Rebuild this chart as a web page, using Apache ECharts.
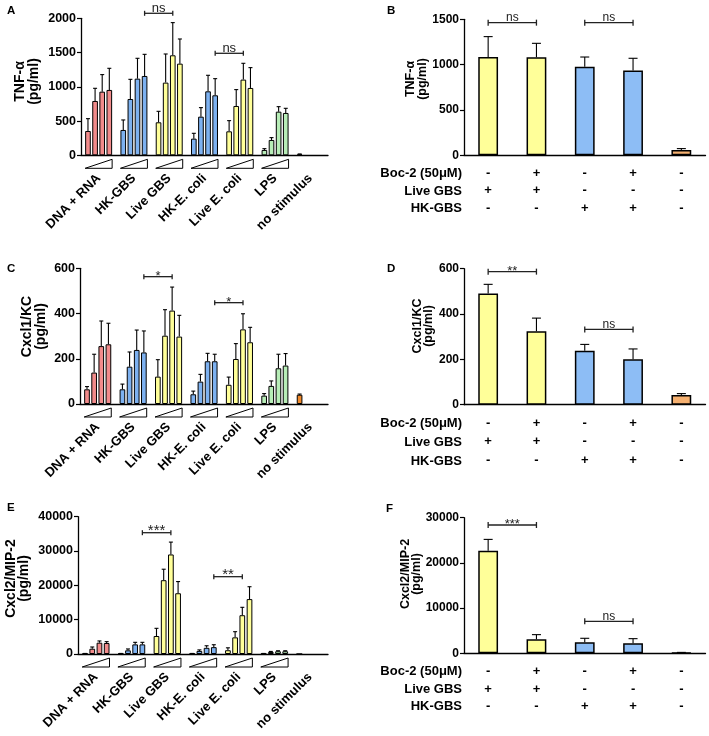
<!DOCTYPE html>
<html><head><meta charset="utf-8">
<script src="https://cdn.jsdelivr.net/npm/echarts@6/dist/echarts.min.js"></script>
<style>html,body{margin:0;padding:0;background:#fff}#c{width:709px;height:736px}</style>
</head><body><div id="c"></div>
<script>
// ---------- data ----------
const groups = ['DNA + RNA','HK-GBS','Live GBS','HK-E. coli','Live E. coli','LPS','no stimulus'];
const treatments = ['1','2','3','4','5'];
const boc2Signs = ['-','+','-','+','-'];
const liveGbsSigns = ['+','+','-','-','-'];
const hkGbsSigns = ['-','-','+','+','-'];
const rowNames = ['Boc-2 (50\u03BCM)','Live GBS','HK-GBS'];
const yTitles = ['TNF-\u03B1\n(pg/ml)','TNF-\u03B1\n(pg/ml)','Cxcl1/KC\n(pg/ml)','Cxcl1/KC\n(pg/ml)','Cxcl2/MIP-2\n(pg/ml)','Cxcl2/MIP-2\n(pg/ml)'];

// A: TNF-a, 4 doses per stimulus
const tnfDoseMean = [[355,793,929,954],[370,822,1119,1158],[482,1061,1460,1338],[243,564,934,876],[350,720,1105,983],[78,224,637,618],[15]];
const tnfDoseSd   = [[180,185,249,316],[146,287,297,316],[160,418,477,360],[78,132,234,243],[156,239,238,297],[19,34,73,68],[5]];
const tnfDoseSig  = [[1,3,2,2,2073,'ns'],[3,3,4,2,1489,'ns']];
// B: TNF-a, Boc-2
const tnfBocMean = [1084,1081,978,934,59];
const tnfBocSd   = [225,154,106,136,15];
const tnfBocSig  = [[0,0,1,0,1463,'ns'],[2,0,3,0,1463,'ns']];
// C: Cxcl1/KC
const kcDoseMean = [[65,139,256,264],[65,165,239,228],[121,302,413,298],[43,99,189,189],[85,199,330,273],[37,80,158,170],[41]];
const kcDoseSd   = [[12,81,111,93],[23,65,88,95],[75,115,104,94],[14,32,35,31],[34,68,69,66],[9,22,62,53],[3]];
const kcDoseSig  = [[1,3,2,2,563,'*'],[3,3,4,2,448,'*']];
// D
const kcBocMean = [491,324,238,200,43];
const kcBocSd   = [40,58,28,46,6];
const kcBocSig  = [[0,0,1,0,587,'**'],[2,0,3,0,332,'ns']];
// E: Cxcl2/MIP-2
const mipDoseMean = [[100,1540,3300,3200],[100,1070,2800,2800],[5240,21500,29000,17700],[100,900,1800,2000],[1100,4850,11300,16000],[100,600,800,800],[0]];
const mipDoseSd   = [[60,500,500,400],[60,400,600,600],[2240,3200,3600,3400],[60,300,600,700],[700,1650,2300,3600],[60,150,150,150],[0]];
const mipDoseSig  = [[1,3,2,2,35340,'***'],[3,3,4,2,22525,'**']];
// F
const mipBocMean = [22700,3100,2430,2210,150];
const mipBocSd   = [2500,1030,890,1030,50];
const mipBocSig  = [[0,0,1,0,28380,'***'],[2,0,3,0,7076,'ns']];

// ---------- styling ----------
const FONT = '"Liberation Sans", Arial, Helvetica, sans-serif';
const leftColors = ['#F28B8B','#7DB1F0','#FFFF99','#7DB1F0','#FFFF99','#B7EDB7','#F0892A'];
const rightColors = ['#FFFF99','#FFFF99','#8DBDF5','#8DBDF5','#F5B070'];
const BW = 0.16, GAP = 0.26, PITCH = BW * (1 + GAP);

const grids = [], xAxes = [], yAxes = [], series = [];

function yAxisDef(idx, max, interval, fs) {
  return {
    gridIndex: idx, type: 'value', min: 0, max: max, interval: interval,
    axisLine: {show: true, lineStyle: {color: '#000', width: 1.3}},
    axisTick: {show: true, length: 4, lineStyle: {color: '#000', width: 1.2}},
    splitLine: {show: false},
    axisLabel: {margin: 5, fontFamily: FONT, fontWeight: 'bold', fontSize: fs, color: '#000', formatter: v => String(v)}
  };
}

function errSeries(idx, data, nb, capW) {
  return {
    type: 'custom', xAxisIndex: idx, yAxisIndex: idx, clip: false, silent: true, z: 5,
    encode: {x: 0, y: 2}, data: data,
    renderItem: function (params, api) {
      const cat = api.value(0), j = api.value(1), m = api.value(2), s = api.value(3);
      const band = api.size([1, 0])[0];
      const p0 = api.coord([cat, m]), p1 = api.coord([cat, m + s]);
      const x = p0[0] + (j - (nb - 1) / 2) * band * (nb > 1 ? PITCH : 0);
      return {type: 'group', children: [
        {type: 'line', shape: {x1: x, y1: p0[1], x2: x, y2: p1[1]}, style: {stroke: '#000', lineWidth: 1.1}},
        {type: 'line', shape: {x1: x - capW / 2, y1: p1[1], x2: x + capW / 2, y2: p1[1]}, style: {stroke: '#000', lineWidth: 1.1}}
      ]};
    }
  };
}

function sigSeries(idx, list, nb, tick, fs, starFs) {
  return {
    type: 'custom', xAxisIndex: idx, yAxisIndex: idx, clip: false, silent: true, z: 6,
    encode: {x: 0, y: 4}, data: list.map(b => [b[0], b[1], b[2], b[3], b[4]]),
    renderItem: function (params, api) {
      const band = api.size([1, 0])[0];
      const off = nb > 1 ? PITCH : 0;
      const a = api.coord([api.value(0), api.value(4)]);
      const b = api.coord([api.value(2), api.value(4)]);
      const x1 = a[0] + (api.value(1) - (nb - 1) / 2) * band * off;
      const x2 = b[0] + (api.value(3) - (nb - 1) / 2) * band * off;
      const y = a[1];
      const label = list[params.dataIndex][5];
      const star = label.indexOf('*') >= 0;
      const st = {stroke: '#222', lineWidth: 1.3};
      return {type: 'group', children: [
        {type: 'line', shape: {x1: x1, y1: y, x2: x2, y2: y}, style: st},
        {type: 'line', shape: {x1: x1, y1: y - tick, x2: x1, y2: y + tick}, style: st},
        {type: 'line', shape: {x1: x2, y1: y - tick, x2: x2, y2: y + tick}, style: st},
        {type: 'text', style: {text: label, x: (x1 + x2) / 2, y: star ? y + 6 : y + 1.5, align: 'center', verticalAlign: 'bottom',
          fontFamily: FONT, fontSize: star ? starFs : fs, fill: '#222'}}
      ]};
    }
  };
}

function leftPanel(idx, grid, max, interval, means, sds, sig, starFs) {
  grids.push(Object.assign({containLabel: false}, grid));
  xAxes.push({
    gridIndex: idx, type: 'category', data: groups,
    axisLine: {lineStyle: {color: '#000', width: 1.3}},
    axisTick: {alignWithLabel: true, length: 3, interval: 0, lineStyle: {color: '#000', width: 1.2}},
    axisLabel: {interval: 0, rotate: 45, margin: 21, fontFamily: FONT, fontWeight: 'bold', fontSize: 13, color: '#000'}
  });
  yAxes.push(yAxisDef(idx, max, interval, 12.5));
  for (let j = 0; j < 4; j++) {
    series.push({
      type: 'bar', xAxisIndex: idx, yAxisIndex: idx, barWidth: (BW * 100) + '%', barGap: (GAP * 100) + '%',
      silent: true,
      itemStyle: {borderColor: '#000', borderWidth: 1},
      data: groups.map((g, i) => means[i][j] === undefined ? '-' : {value: means[i][j], itemStyle: {color: leftColors[i]}})
    });
  }
  const ed = [];
  means.forEach((row, i) => row.forEach((m, j) => { if (sds[i][j] > 0) ed.push([i, j, m, sds[i][j]]); }));
  series.push(errSeries(idx, ed, 4, 4));
  series.push(sigSeries(idx, sig, 4, 2.5, 13, starFs));
  // dose ramps below each stimulus group
  series.push({
    type: 'custom', xAxisIndex: idx, yAxisIndex: idx, clip: false, silent: true, z: 4,
    encode: {x: 0, y: 1}, data: groups.slice(0, 6).map((g, i) => [i, 0]),
    renderItem: function (params, api) {
      const c = api.coord([api.value(0), 0]);
      const band = api.size([1, 0])[0];
      const half = band * (4 * BW + 3 * BW * GAP) / 2;
      return {type: 'polygon', shape: {points: [[c[0] - half, c[1] + 13], [c[0] + half, c[1] + 4], [c[0] + half, c[1] + 13]]},
        style: {fill: '#fff', stroke: '#000', lineWidth: 1}};
    }
  });
}

function rightPanel(idx, grid, max, interval, means, sds, sig, lh, margin, starFs) {
  grids.push(Object.assign({containLabel: false}, grid));
  xAxes.push({
    gridIndex: idx, type: 'category', data: treatments,
    axisLine: {lineStyle: {color: '#000', width: 1.3}},
    axisTick: {alignWithLabel: true, length: 3, interval: 0, lineStyle: {color: '#000', width: 1.2}},
    axisLabel: {interval: 0, margin: margin, lineHeight: lh, fontFamily: FONT, fontWeight: 'bold', fontSize: 13, color: '#000',
      formatter: (v, i) => [boc2Signs[i], liveGbsSigns[i], hkGbsSigns[i]].join('\n')}
  });
  yAxes.push(yAxisDef(idx, max, interval, 12));
  series.push({
    type: 'bar', xAxisIndex: idx, yAxisIndex: idx, barWidth: '41%', silent: true,
    itemStyle: {borderColor: '#000', borderWidth: 1.5},
    data: means.map((m, i) => ({value: m, itemStyle: {color: rightColors[i]}}))
  });
  series.push(errSeries(idx, means.map((m, i) => [i, 0, m, sds[i]]), 1, 9));
  series.push(sigSeries(idx, sig, 1, 3, 12, starFs));
}

leftPanel(0, {left: 81, top: 18.3, width: 247, height: 137}, 2000, 500, tnfDoseMean, tnfDoseSd, tnfDoseSig, 13);
rightPanel(1, {left: 464, top: 19.3, width: 241.5, height: 136}, 1500, 500, tnfBocMean, tnfBocSd, tnfBocSig, 17.5, 9, 13);
leftPanel(2, {left: 80, top: 268.3, width: 248, height: 135.7}, 600, 200, kcDoseMean, kcDoseSd, kcDoseSig, 13);
rightPanel(3, {left: 464, top: 268.7, width: 241.5, height: 136}, 600, 200, kcBocMean, kcBocSd, kcBocSig, 18.7, 9, 13);
leftPanel(4, {left: 78, top: 516.7, width: 250, height: 137.3}, 40000, 10000, mipDoseMean, mipDoseSd, mipDoseSig, 15);
rightPanel(5, {left: 464, top: 517.7, width: 241.5, height: 135.6}, 30000, 10000, mipBocMean, mipBocSd, mipBocSig, 17.5, 9.6, 13);

const letters = [['A', 7, 5], ['B', 387, 5], ['C', 7, 263], ['D', 387, 263], ['E', 7, 502], ['F', 386, 503]];
const rowY = [[173, 191, 208], [423, 442, 461], [671.7, 689, 706.7]];
// y-axis title placement: [centerX, centerY, fontSize, lineHeight]
const titlePos = [[27, 81.5, 14, 14], [416.5, 79, 12.5, 11.5], [34, 326.5, 14, 14], [423, 326, 12.5, 11.5], [17.5, 578.5, 14, 13], [411, 574, 12.5, 11.7]];
const graphic = [];
letters.forEach(l => graphic.push({type: 'text', x: l[1], y: l[2],
  style: {text: l[0], fontFamily: FONT, fontWeight: 'bold', fontSize: 11.5, fill: '#000', align: 'left', verticalAlign: 'top'}}));
rowY.forEach(ys => ys.forEach((y, k) => graphic.push({type: 'text', x: 462, y: y,
  style: {text: rowNames[k], fontFamily: FONT, fontWeight: 'bold', fontSize: 13, fill: '#000', align: 'right', verticalAlign: 'middle'}})));
yTitles.forEach((t, i) => graphic.push({type: 'text', x: titlePos[i][0], y: titlePos[i][1], rotation: Math.PI / 2,
  style: {text: t, fontFamily: FONT, fontWeight: 'bold', fontSize: titlePos[i][2], lineHeight: titlePos[i][3], fill: '#000', align: 'center', verticalAlign: 'middle'}}));

const chart = echarts.init(document.getElementById('c'), null, {renderer: 'canvas'});
chart.setOption({
  animation: false, backgroundColor: '#fff',
  grid: grids, xAxis: xAxes, yAxis: yAxes, series: series, graphic: graphic
});
</script></body></html>
